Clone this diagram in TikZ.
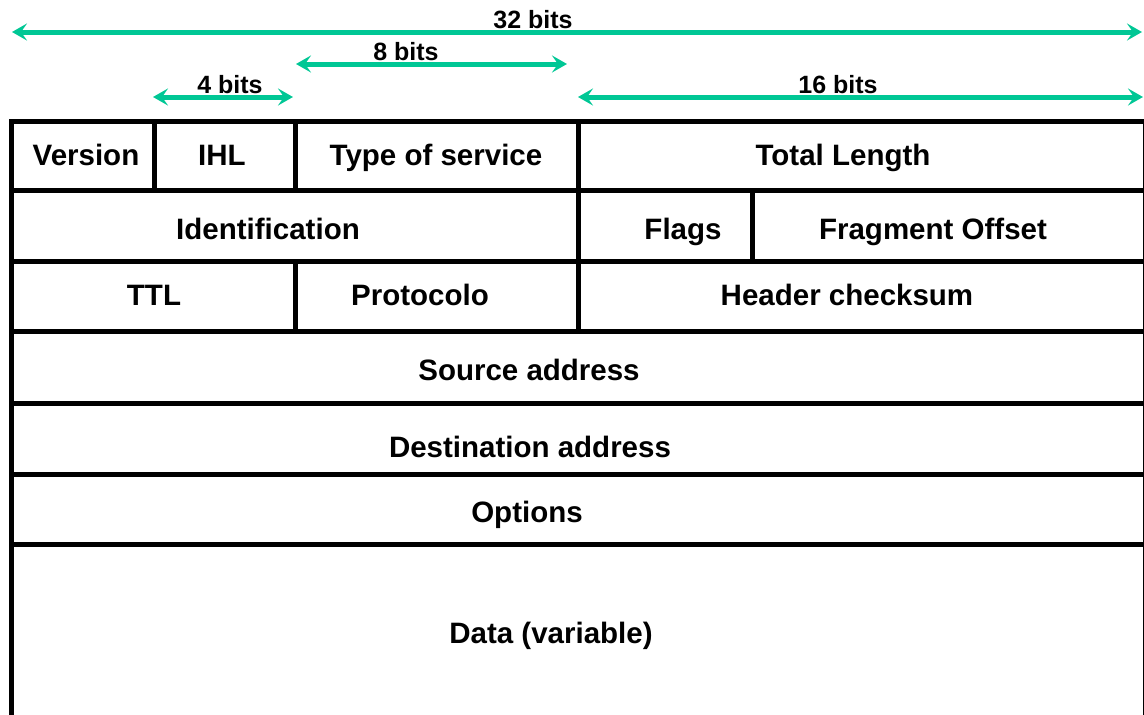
\documentclass[tikz,border=0pt]{standalone}
\usepackage{fontspec}
\setmainfont{Liberation Sans}
\usetikzlibrary{arrows.meta}
\definecolor{teal}{RGB}{0,199,149}
\begin{document}
\begin{tikzpicture}[x=1pt,y=-1pt,
  grid/.style={line width=5pt,black},
  dimarrow/.style={line width=5pt,teal,{Stealth[length=15pt,width=17pt,inset=6pt]}-{Stealth[length=15pt,width=17pt,inset=6pt]}},
  field/.style={anchor=base,inner sep=0pt,font=\fontsize{29.5}{31}\selectfont\bfseries},
  dimlabel/.style={anchor=base,inner sep=0pt,font=\fontsize{25}{27}\selectfont\bfseries}]
\useasboundingbox (0,0) rectangle (1144,715);
\begin{scope}
\clip (0,0) rectangle (1144,715);
% outer frame
\draw[grid] (11.5,740) -- (11.5,121.5) -- (1145,121.5) -- (1145,740);
% row lines
\foreach \y in {190,261.7,331.7,403,474,544}
  \draw[grid] (11.5,\y) -- (1145,\y);
% column lines
\draw[grid] (154.3,121.5) -- (154.3,190);
\draw[grid] (295.5,121.5) -- (295.5,190);
\draw[grid] (578,121.5) -- (578,331.7);
\draw[grid] (752,190) -- (752,261.7);
\draw[grid] (295.5,261.7) -- (295.5,331.7);
\end{scope}
% dimension arrows
\coordinate (a32l) at (12,32);   \coordinate (a32r) at (1142,32);
\coordinate (a8l) at (296,64);   \coordinate (a8r) at (567,64);
\coordinate (a4l) at (153,97);   \coordinate (a4r) at (293,97);
\coordinate (a16l) at (578,97);  \coordinate (a16r) at (1143,97);
\draw[dimarrow] (a32l) -- (a32r);
\draw[dimarrow] (a8l) -- (a8r);
\draw[dimarrow] (a4l) -- (a4r);
\draw[dimarrow] (a16l) -- (a16r);
\node[dimlabel] (l32) at (533,28) {32 bits};
\node[dimlabel] (l8) at (406,60) {8 bits};
\node[dimlabel] (l4) at (230,93) {4 bits};
\node[dimlabel] (l16) at (838,93) {16 bits};
% fields
\node[field] (version) at (86,165) {Version};
\node[field] (ihl) at (222,165) {IHL};
\node[field] (tos) at (436,165) {Type of service};
\node[field] (total) at (843,165) {Total Length};
\node[field] (ident) at (268,239) {Identification};
\node[field] (flags) at (683,239) {Flags};
\node[field] (frag) at (933,239) {Fragment Offset};
\node[field] (ttl) at (154,305) {TTL};
\node[field] (proto) at (420,305) {Protocolo};
\node[field] (hcs) at (847,305) {Header checksum};
\node[field] (src) at (529,380.7) {Source address};
\node[field] (dst) at (530,457) {Destination address};
\node[field] (opt) at (527,522.7) {Options};
\node[field] (data) at (551,643) {Data (variable)};
\end{tikzpicture}
\end{document}
